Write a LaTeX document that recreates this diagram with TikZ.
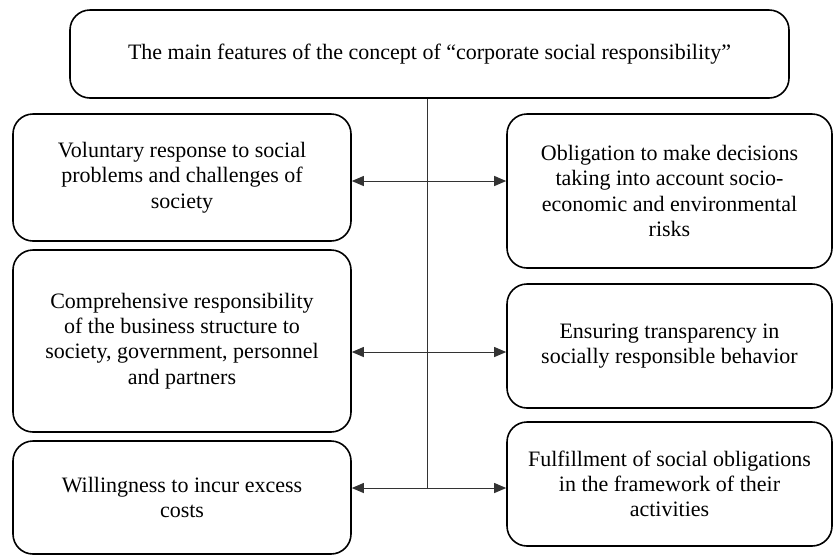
\documentclass[tikz,border=0pt]{standalone}
\usepackage{fontspec}
\setmainfont{Liberation Serif}
\usetikzlibrary{arrows.meta}
\tikzset{
	featbox/.style={draw, line width=1.6pt, rounded corners=20pt, inner sep=0pt, align=center, font=\fontsize{22}{25.3}\selectfont},
	linkline/.style={line width=1pt, color=black!80},
	twoway/.style={linkline, {Triangle[length=12pt,width=10pt]}-{Triangle[length=12pt,width=10pt]}}
}

\begin{document}
\begin{tikzpicture}[x=1pt, y=-1pt]
			%%%%% START %%%%%
			
			\useasboundingbox (0, 0) rectangle (837, 558);
			
			\node[featbox, minimum width=719, minimum height=88] (main) at (429.5, 54) {The main features of the concept of ``corporate social responsibility''};
			
			\node[featbox, minimum width=338, minimum height=127] (left1) at (182, 177.5) {Voluntary response to social\\problems and challenges of\\society};
			\node[featbox, minimum width=338, minimum height=182] (left2) at (182, 341) {Comprehensive responsibility\\of the business structure to\\society, government, personnel\\and partners};
			\node[featbox, minimum width=338, minimum height=113] (left3) at (182, 497.5) {Willingness to incur excess\\costs};
			
			\node[featbox, minimum width=325, minimum height=154] (right1) at (669.5, 191) {Obligation to make decisions\\taking into account socio-\\economic and environmental\\risks};
			\node[featbox, minimum width=325, minimum height=124] (right2) at (669.5, 346) {Ensuring transparency in\\socially responsible behavior};
			\node[featbox, minimum width=325, minimum height=124] (right3) at (669.5, 484) {Fulfillment of social obligations\\in the framework of their\\activities};
			
			\coordinate (spine1) at (427, 181);
			\coordinate (spine2) at (427, 352);
			\coordinate (spine3) at (427, 488);
			
			\draw[linkline] (main.south -| spine1) -- (spine3);
			\draw[twoway] (spine1 -| left1.east) -- (spine1 -| right1.west);
			\draw[twoway] (spine2 -| left2.east) -- (spine2 -| right2.west);
			\draw[twoway] (spine3 -| left3.east) -- (spine3 -| right3.west);
			
			%%%%% END %%%%%
\end{tikzpicture}
\end{document}
